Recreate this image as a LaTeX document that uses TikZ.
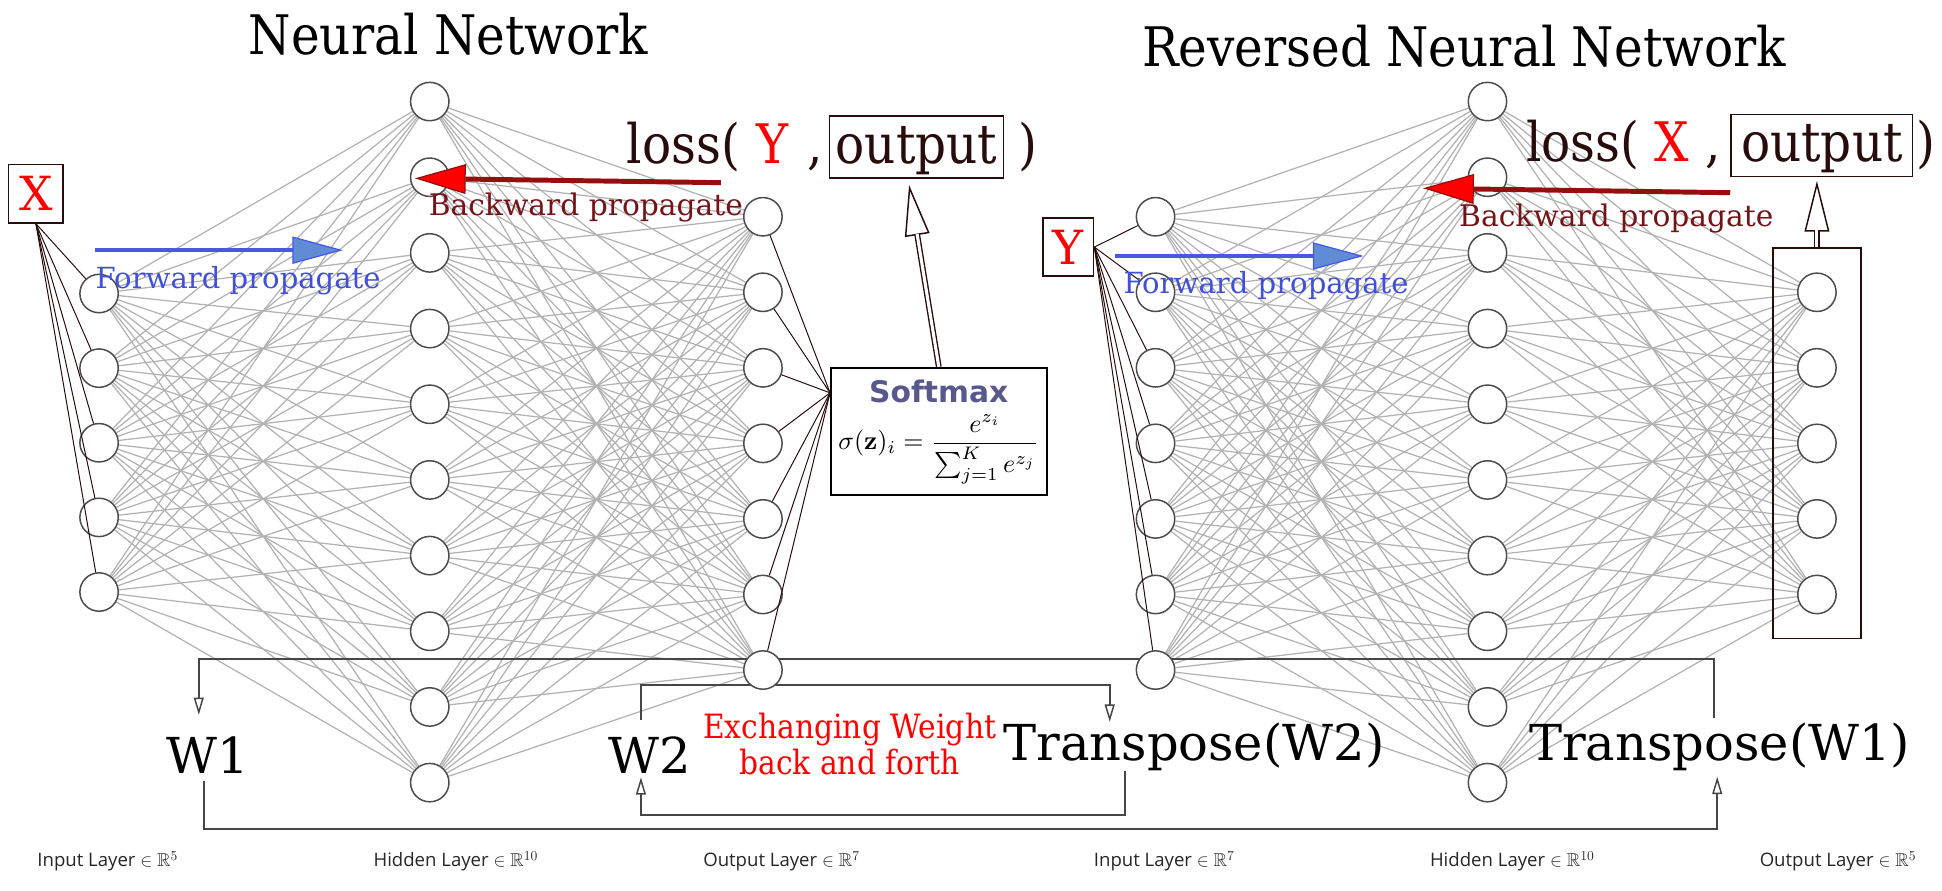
\documentclass[tikz,border=0pt]{standalone}
\usepackage{amsmath}
\usepackage{amssymb}
\usepackage{graphicx}
\usepackage[no-math]{fontspec}
\setmainfont{DejaVu Serif}
\newfontfamily\condfont[FakeStretch=0.89]{DejaVu Serif}
\newfontfamily\layerfont{Open Sans}
\newfontfamily\softfont{DejaVu Sans}
\usetikzlibrary{arrows.meta,positioning,fit}
\pgfdeclarelayer{background}
\pgfsetlayers{background,main}
\definecolor{myink}{RGB}{40,12,12}
\definecolor{myblue}{RGB}{72,88,226}
\definecolor{mylightblue}{RGB}{96,140,214}
\definecolor{mydarkred}{RGB}{150,15,15}
\definecolor{myfwdtext}{RGB}{65,80,215}
\definecolor{mybwdtext}{RGB}{115,20,25}
\definecolor{myslate}{RGB}{88,88,140}
\definecolor{mygray}{RGB}{178,178,178}
\definecolor{mywire}{RGB}{70,70,70}

\begin{document}
\begin{tikzpicture}[x=1pt,y=-1pt,
  neuron/.style={circle,draw=black!70,line width=1.2pt,fill=white,minimum size=31pt,inner sep=0pt},
  link/.style={draw=mygray,line width=1pt},
  feed/.style={draw=myink,line width=0.8pt},
  wire/.style={draw=mywire,line width=1.6pt,-{Triangle[open,length=14pt,width=8pt,line width=1.2pt]}},
  title/.style={font=\condfont\fontsize{44}{48}\selectfont,anchor=base,inner sep=0pt},
  losstxt/.style={font=\condfont\fontsize{44}{48}\selectfont,text=myink,anchor=base west,inner sep=0pt},
  outbox/.style={draw=myink,line width=1.2pt,font=\condfont\fontsize{44}{48}\selectfont,text=myink,anchor=base,
    inner xsep=5pt,inner ysep=4pt,text height=34pt,text depth=8pt},
  wtxt/.style={font=\fontsize{40}{44}\selectfont,anchor=base,inner sep=0pt},
  fwdtxt/.style={font=\fontsize{23.5}{26}\selectfont,text=myfwdtext,anchor=base west,inner sep=0pt},
  bwdtxt/.style={font=\fontsize{24}{26}\selectfont,text=mybwdtext,anchor=base west,inner sep=0pt},
  xchtxt/.style={font=\condfont\fontsize{27}{29}\selectfont,text=red,align=center,inner sep=0pt},
  fwdarrow/.style={draw=myblue,line width=3.5pt,-{Triangle[length=41pt,width=22pt,fill=mylightblue,line width=1pt]}},
  bwdarrow/.style={draw=mydarkred,line width=4pt,-{Triangle[length=41pt,width=24pt,fill=red,line width=1pt]}},
  openhead/.style={draw=myink,line width=1.2pt,-{Triangle[length=41pt,width=20pt,fill=white]}},
  openshaft/.style={draw=myink,line width=1.1pt,double=white,double distance=2.5pt,shorten >=40pt},
  inbox/.style={draw=myink,line width=1.2pt,text=red,font=\fontsize{38}{40}\selectfont,inner sep=0pt},
  layerlabel/.style={font=\layerfont\fontsize{15}{17}\selectfont,text=black!85,anchor=base}]

  \useasboundingbox (0,0) rectangle (1568,719);

  % neurons of the network
  \foreach \i in {1,...,5} \node[neuron] (l1-\i) at (80,{237+60.25*(\i-1)}) {};
  \foreach \i in {1,...,10} \node[neuron] (l2-\i) at (347,{82+61.1*(\i-1)}) {};
  \foreach \i in {1,...,7} \node[neuron] (l3-\i) at (616,{175+61*(\i-1)}) {};

  % neurons of the reversed network
  \foreach \i in {1,...,7} \node[neuron] (r1-\i) at (933,{175+61*(\i-1)}) {};
  \foreach \i in {1,...,10} \node[neuron] (r2-\i) at (1201,{82+61.1*(\i-1)}) {};
  \foreach \i in {1,...,5} \node[neuron] (r3-\i) at (1467,{236+61*(\i-1)}) {};
  \node[draw=myink,line width=1.3pt,fit=(r3-1)(r3-5),inner xsep=19.5pt,inner ysep=19.5pt] (r3box) {};

  \begin{pgfonlayer}{background}
    \foreach \i in {1,...,5}
      \foreach \j in {1,...,10}
        \draw[link] (l1-\i) -- (l2-\j);
    \foreach \i in {1,...,10}
      \foreach \j in {1,...,7}
        \draw[link] (l2-\i) -- (l3-\j);
    \foreach \i in {1,...,7}
      \foreach \j in {1,...,10}
        \draw[link] (r1-\i) -- (r2-\j);
    \foreach \i in {1,...,10}
      \foreach \j in {1,...,5}
        \draw[link] (r2-\i) -- (r3-\j);
  \end{pgfonlayer}

  \node[title] (nntitle) at (362,44) {Neural Network};
  \node[title] (rnntitle) at (1182,54) {Reversed Neural Network};

  % inputs
  \node[inbox,minimum width=44pt,minimum height=47pt] (xin) at (29,156.5) {X};
  \node[inbox,minimum width=41pt,minimum height=47pt] (yin) at (862.5,199.5) {Y};
  \foreach \i in {1,...,5} \draw[feed] (xin.south) -- (l1-\i);
  \foreach \i in {1,...,7} \draw[feed] (yin.east) -- (r1-\i);

  % softmax
  \node[draw=black,line width=1.6pt,minimum width=174pt,minimum height=103pt,align=center,inner sep=0pt] (smax) at (758,348.5)
    {{\softfont\bfseries\fontsize{24}{26}\selectfont\color{myslate}Softmax}\\[9pt]
     \scalebox{2.1}{$\displaystyle\sigma(\mathbf{z})_i=\frac{e^{z_i}}{\sum_{j=1}^{K}e^{z_j}}$}};
  \coordinate (smin) at ([yshift=-21pt]smax.north west);
  \foreach \i in {1,...,7} \draw[feed] (l3-\i) -- (smin);

  % loss terms
  \node[losstxt] (lossL) at (506,131.8) {loss(};
  \node[losstxt,text=red] (yL) at (611,131.8) {Y};
  \node[losstxt] (commaL) at (652,131.8) {,};
  \node[outbox] (outL) at (740,131.8) {output};
  \node[losstxt] (parL) at (822,131.8) {)};

  \node[losstxt] (lossR) at (1232,130.5) {loss(};
  \node[losstxt,text=red] (xR) at (1336,130.5) {X};
  \node[losstxt] (commaR) at (1377,130.5) {,};
  \node[outbox,inner xsep=8pt] (outR) at (1471,130.5) {output};
  \node[losstxt] (parR) at (1547,130.5) {)};

  \draw[openhead] (smax.north) -- ([xshift=-6pt,yshift=-5pt]outL.south);
  \draw[openshaft] (smax.north) -- ([xshift=-6pt,yshift=-5pt]outL.south);
  \draw[openhead] (r3box.north) -- ([xshift=-4pt,yshift=-3pt]outR.south);
  \draw[openshaft] (r3box.north) -- ([xshift=-4pt,yshift=-3pt]outR.south);

  % propagation arrows
  \coordinate (fwdLs) at (77,202);
  \coordinate (fwdLe) at (277,202);
  \coordinate (bwdLs) at (582,147.5);
  \coordinate (bwdLe) at (335,144);
  \coordinate (fwdRs) at (900,206.7);
  \coordinate (fwdRe) at (1101,206.7);
  \coordinate (bwdRs) at (1397,155.6);
  \coordinate (bwdRe) at (1149,152);
  \draw[fwdarrow] (fwdLs) -- (fwdLe);
  \draw[bwdarrow] (bwdLs) -- (bwdLe);
  \draw[fwdarrow] (fwdRs) -- (fwdRe);
  \draw[bwdarrow] (bwdRs) -- (bwdRe);
  \node[fwdtxt] (fwdtxtL) at (77,232.8) {Forward propagate};
  \node[bwdtxt] (bwdtxtL) at (346,173.6) {Backward propagate};
  \node[fwdtxt] (fwdtxtR) at (907,236.7) {Forward propagate};
  \node[bwdtxt] (bwdtxtR) at (1178,183) {Backward propagate};

  % weights
  \node[wtxt,text height=47pt,text depth=6pt] (w1) at (167.5,624.4) {W1};
  \node[wtxt,text height=43pt,text depth=3pt] (w2) at (524.5,624.4) {W2};
  \node[wtxt,text height=31pt,text depth=8pt] (tw2) at (964,614) {Transpose(W2)};
  \node[wtxt,text height=34pt,text depth=13pt] (tw1) at (1388.5,614) {Transpose(W1)};
  \node[xchtxt] (xch) at (686,601) {Exchanging Weight\\back and forth};

  \coordinate (wtop) at (770,532);
  \coordinate (wbot) at (770,669);
  \coordinate (wintop) at (700,553);
  \coordinate (winbot) at (700,658);
  \begin{pgfonlayer}{background}
    \draw[wire] ([xshift=-5pt]tw1.north) |- (wtop) -| ([xshift=-7pt]w1.north);
    \draw[wire] ([xshift=-3pt]w1.south) |- (wbot) -| ([xshift=-2pt]tw1.south);
    \draw[wire] ([xshift=-7pt]w2.north) |- (wintop) -| ([xshift=-68pt]tw2.north);
    \draw[wire] ([xshift=-56pt]tw2.south) |- (winbot) -| ([xshift=-7pt]w2.south);
  \end{pgfonlayer}

  % layer names
  \node[layerlabel] (lab1) at (87,700) {Input Layer $\in\mathbb{R}^{5}$};
  \node[layerlabel] (lab2) at (368,700) {Hidden Layer $\in\mathbb{R}^{10}$};
  \node[layerlabel] (lab3) at (631,700) {Output Layer $\in\mathbb{R}^{7}$};
  \node[layerlabel] (lab4) at (940,700) {Input Layer $\in\mathbb{R}^{7}$};
  \node[layerlabel] (lab5) at (1221,700) {Hidden Layer $\in\mathbb{R}^{10}$};
  \node[layerlabel] (lab6) at (1484,700) {Output Layer $\in\mathbb{R}^{5}$};

\end{tikzpicture}
\end{document}
